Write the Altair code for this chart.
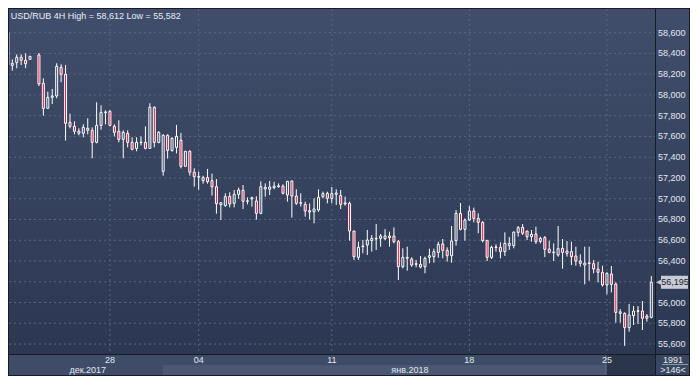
import altair as alt
import pandas as pd

# ---------------- data ----------------
symbol = "USD/RUB"
timeframe = "4H"
candle_index = [-1, 0, 1, 2, 3, 4] + list(range(6, 145))
opens = [58600, 58285, 58311, 58363, 58334, 58343,
         58385, 58112, 57871, 57977, 57990, 58266, 58199, 57736, 57698, 57631,
         57631, 57678, 57659, 57543, 57707, 57830, 57842, 57698, 57650, 57572,
         57630, 57543, 57485, 57540, 57543, 57485, 57881, 57543, 57264, 57611,
         57466, 57495, 57563, 57312, 57457, 57255, 57213, 57174, 57203, 57174,
         57116, 56943, 56933, 57023, 56956, 57042, 57081, 56975, 56998, 56978,
         56859, 57094, 57091, 57107, 57116, 57122, 57036, 57171, 57026, 56956,
         56946, 56872, 56875, 56891, 57020, 57052, 57004, 57042, 57030, 56950,
         56956, 56689, 56435, 56538, 56554, 56596, 56612, 56618, 56615, 56625,
         56641, 56586, 56345, 56426, 56419, 56368, 56368, 56345, 56435, 56442,
         56483, 56564, 56503, 56451, 56596, 56859, 56705, 56795, 56882, 56811,
         56772, 56599, 56435, 56530, 56532, 56490, 56548, 56548, 56676, 56724,
         56689, 56634, 56660, 56589, 56625, 56515, 56480, 56458, 56522, 56474,
         56490, 56448, 56400, 56361, 56376, 56374, 56323, 56291, 56169, 56275,
         56178, 55896, 55896, 55758, 55873, 55915, 55918, 55870, 55857]
highs = [58612, 58343, 58391, 58391, 58401, 58374,
         58404, 58160, 58032, 58057, 58305, 58295, 58289, 57820, 57746, 57678,
         57717, 57775, 57688, 57929, 57900, 57852, 57852, 57717, 57756, 57659,
         57659, 57592, 57592, 57601, 57698, 57920, 57890, 57650, 57621, 57621,
         57592, 57711, 57633, 57460, 57466, 57293, 57261, 57222, 57287, 57242,
         57190, 56965, 57052, 57062, 57084, 57107, 57132, 57013, 57020, 57023,
         57168, 57148, 57171, 57164, 57148, 57139, 57171, 57174, 57091, 57052,
         56972, 56956, 57004, 57091, 57068, 57068, 57113, 57091, 57084, 57020,
         56972, 56690, 56586, 56602, 56699, 56650, 56756, 56660, 56708, 56683,
         56724, 56602, 56522, 56538, 56435, 56410, 56448, 56442, 56519, 56519,
         56586, 56612, 56532, 56737, 56891, 56959, 56811, 56930, 56914, 56859,
         56785, 56599, 56548, 56561, 56580, 56676, 56631, 56683, 56737, 56756,
         56689, 56699, 56731, 56634, 56641, 56596, 56570, 56737, 56612, 56593,
         56586, 56538, 56464, 56538, 56538, 56409, 56393, 56355, 56291, 56352,
         56194, 55937, 55905, 55986, 55966, 55966, 56014, 55889, 56255]
lows = [58280, 58234, 58257, 58289, 58257, 58341,
        58086, 57800, 57870, 57913, 57968, 58122, 57560, 57678, 57621, 57611,
        57592, 57621, 57389, 57534, 57665, 57717, 57698, 57601, 57543, 57389,
        57495, 57466, 57457, 57514, 57476, 57480, 57495, 57534, 57222, 57386,
        57453, 57437, 57293, 57310, 57222, 57116, 57087, 57145, 57145, 57030,
        56856, 56795, 56924, 56917, 56917, 57000, 56901, 56946, 56924, 56798,
        56850, 57020, 57036, 57091, 57107, 57042, 56972, 56818, 56940, 56924,
        56827, 56801, 56763, 56875, 57004, 56956, 56956, 56940, 56901, 56933,
        56596, 56410, 56410, 56474, 56458, 56490, 56506, 56538, 56602, 56538,
        56570, 56217, 56329, 56307, 56345, 56339, 56329, 56281, 56378, 56384,
        56432, 56426, 56394, 56384, 56548, 56695, 56596, 56785, 56772, 56667,
        56580, 56400, 56419, 56490, 56426, 56448, 56506, 56522, 56635, 56650,
        56602, 56586, 56564, 56570, 56438, 56474, 56400, 56442, 56326, 56442,
        56361, 56355, 56345, 56175, 56210, 56281, 56194, 56153, 56079, 56098,
        55806, 55806, 55582, 55719, 55783, 55793, 55735, 55815, 55848]
closes = [58290, 58305, 58363, 58334, 58301, 58372,
          58106, 57871, 57977, 57990, 58276, 58199, 57727, 57698, 57650, 57650,
          57688, 57659, 57543, 57707, 57832, 57836, 57707, 57640, 57572, 57640,
          57543, 57476, 57543, 57546, 57485, 57881, 57543, 57640, 57611, 57466,
          57582, 57601, 57312, 57457, 57255, 57213, 57207, 57203, 57164, 57116,
          56952, 56962, 57020, 56949, 57042, 57084, 56975, 56980, 57010, 56859,
          57116, 57110, 57113, 57122, 57124, 57052, 57168, 57026, 56956, 56962,
          56882, 56885, 56901, 57013, 57049, 57004, 57049, 57055, 56946, 56960,
          56689, 56442, 56532, 56545, 56602, 56618, 56618, 56641, 56641, 56641,
          56586, 56345, 56435, 56435, 56361, 56374, 56342, 56426, 56451, 56490,
          56560, 56503, 56451, 56593, 56859, 56705, 56795, 56882, 56811, 56772,
          56596, 56435, 56532, 56536, 56490, 56570, 56570, 56679, 56721, 56667,
          56634, 56657, 56586, 56618, 56512, 56483, 56487, 56519, 56483, 56496,
          56442, 56400, 56378, 56380, 56382, 56323, 56291, 56169, 56281, 56175,
          55905, 55910, 55758, 55880, 55918, 55921, 55848, 55848, 56195]

price_ticks = [55600, 55800, 56000, 56200, 56400, 56600, 56800, 57000,
               57200, 57400, 57600, 57800, 58000, 58200, 58400, 58600]
day_ticks = [22, 42, 72, 103, 134]
day_labels = ["28", "04", "11", "18", "25"]
month_labels = ["дек.2017", "янв.2018"]
month_label_at = [17.0, 89.6]
jan_span = [33.9, 133.8]
total_bars = 1991
visible_bars = 146

# ---------------- layout / style ----------------
W, H = 646, 345
FONT = "Liberation Sans"
RED = "#e8143c"
GRID = "#58657f"
TXT = "#e3e8f1"

xs = alt.Scale(domain=[-0.744, 144.834], nice=False, zero=False, padding=0)
ys = alt.Scale(domain=[55504, 58828], nice=False, zero=False, padding=0)

df = pd.DataFrame({"i": candle_index, "o": opens, "h": highs, "l": lows, "c": closes})
one = pd.DataFrame({"k": [0]})
last_close = closes[-1]

grad = alt.Gradient(gradient="linear",
                    stops=[alt.GradientStop(color="#414e6b", offset=0),
                           alt.GradientStop(color="#2c3852", offset=1)],
                    x1=0, x2=0, y1=0, y2=1)

def box(x0, x1, y0, y1, fill):
    return alt.Chart(one).mark_rect(fill=fill).encode(
        x=alt.value(x0), x2=alt.value(x1), y=alt.value(y0), y2=alt.value(y1))

bg = box(0, W, 0, H, grad)
right_bg = box(W + 1, W + 34, 0, H, grad)
strip = box(0, W, H + 1, H + 21, "#3e4c68")
corner = box(W + 1, W + 34, H + 1, H + 21, "#39465f")

band = alt.Chart(one).mark_rect(fill="#4a5873").encode(
    x=alt.X(datum=jan_span[0], type="quantitative", scale=xs, axis=None),
    x2=alt.X2(datum=jan_span[1]),
    y=alt.value(H + 11), y2=alt.value(H + 21))
dark = alt.Chart(one).mark_rect(fill="#2b364d").encode(
    x=alt.X(datum=jan_span[1], type="quantitative", scale=xs, axis=None),
    x2=alt.value(W), y=alt.value(H + 1), y2=alt.value(H + 21))
dark_edge = alt.Chart(one).mark_rule(color="#66728a").encode(
    x=alt.X(datum=jan_span[1], type="quantitative", scale=xs, axis=None),
    y=alt.value(H + 1), y2=alt.value(H + 21))

grid_h = alt.Chart(pd.DataFrame({"p": price_ticks})).mark_rule(
    color=GRID, strokeDash=[2, 3], strokeWidth=1).encode(
    y=alt.Y("p:Q", scale=ys, axis=None), x=alt.value(0), x2=alt.value(W))
grid_v = alt.Chart(pd.DataFrame({"i": day_ticks})).mark_rule(
    color=GRID, strokeDash=[2, 3], strokeWidth=1).encode(
    x=alt.X("i:Q", scale=xs, axis=None), y=alt.value(0), y2=alt.value(H))

base = alt.Chart(df).transform_calculate(
    top="max(datum.o, datum.c)", bot="min(datum.o, datum.c)")
X = alt.X("i:Q", scale=xs, axis=None)
wick_up = base.mark_rule(color="white", strokeWidth=1, clip=True).encode(
    x=X, y=alt.Y("h:Q", scale=ys, axis=None), y2="top:Q")
wick_dn = base.mark_rule(color="white", strokeWidth=1, clip=True).encode(
    x=X, y=alt.Y("bot:Q", scale=ys, axis=None), y2="l:Q")
body_dn = base.transform_filter("datum.c < datum.o").mark_bar(
    size=2, fill=RED, stroke="white", strokeWidth=1, clip=True).encode(
    x=X, y=alt.Y("o:Q", scale=ys, axis=None), y2="c:Q")
body_up = base.transform_filter("datum.c >= datum.o").mark_bar(
    size=2, fill="#000000", fillOpacity=0, stroke="white", strokeWidth=1, clip=True).encode(
    x=X, y=alt.Y("o:Q", scale=ys, axis=None), y2="c:Q")

# price labels on the right (the one hidden under the last-price marker is left out)
ylabels = alt.Chart(pd.DataFrame({"p": price_ticks,
                                  "t": [f"{v:,}" for v in price_ticks]})).transform_filter(
    f"abs(datum.p - {last_close}) > 110").mark_text(
    align="left", baseline="middle", font=FONT, fontSize=9, color=TXT).encode(
    x=alt.value(W + 3), y=alt.Y("p:Q", scale=ys, axis=None), text="t:N")

last = pd.DataFrame({"p": [last_close], "t": [f"{last_close:,}"]})
mk_rect = alt.Chart(last).transform_calculate(
    p1="datum.p + 63", p2="datum.p - 63").mark_rect(fill="#c8ccd5").encode(
    x=alt.value(W + 6), x2=alt.value(W + 33),
    y=alt.Y("p1:Q", scale=ys, axis=None), y2="p2:Q")
mk_tri = alt.Chart(last).mark_point(
    shape="M 1 -1 L -1 0 L 1 1 Z", filled=True, size=36, color="#c8ccd5", opacity=1).encode(
    x=alt.value(W + 4), y=alt.Y("p:Q", scale=ys, axis=None))
mk_txt = alt.Chart(last).mark_text(
    align="center", baseline="middle", font=FONT, fontSize=9, color="#1b2334").encode(
    x=alt.value(W + 20), y=alt.Y("p:Q", scale=ys, axis=None), text="t:N")

days = alt.Chart(pd.DataFrame({"i": day_ticks, "t": day_labels})).mark_text(
    align="center", baseline="middle", font=FONT, fontSize=9, color=TXT).encode(
    x=alt.X("i:Q", scale=xs, axis=None), y=alt.value(H + 6), text="t:N")
months = alt.Chart(pd.DataFrame({"i": month_label_at, "t": month_labels})).mark_text(
    align="center", baseline="middle", font=FONT, fontSize=9, color=TXT).encode(
    x=alt.X("i:Q", scale=xs, axis=None), y=alt.value(H + 16), text="t:N")

c_top = alt.Chart(pd.DataFrame({"t": [str(total_bars)]})).mark_text(
    align="center", baseline="middle", font=FONT, fontSize=9, color=TXT).encode(
    x=alt.value(W + 18), y=alt.value(H + 5.5), text="t:N")
c_line = alt.Chart(one).mark_rule(color="#8f99ad").encode(
    x=alt.value(W + 7), x2=alt.value(W + 33), y=alt.value(H + 10.5))
c_bot = alt.Chart(pd.DataFrame({"t": [f">{visible_bars}<"]})).mark_text(
    align="center", baseline="middle", font=FONT, fontSize=9, color=TXT).encode(
    x=alt.value(W + 18), y=alt.value(H + 16), text="t:N")

header = alt.Chart(pd.DataFrame({"t": [
    f"{symbol} {timeframe} High = {max(highs):,} Low = {min(lows):,}"]})).mark_text(
    align="left", baseline="middle", font=FONT, fontSize=9, color="#e8edf5").encode(
    x=alt.value(1.7), y=alt.value(6.5), text="t:N")

chart = alt.layer(
    bg, right_bg, strip, band, dark, dark_edge, corner,
    grid_h, grid_v, wick_up, wick_dn, body_dn, body_up,
    ylabels, mk_rect, mk_tri, mk_txt, days, months, c_top, c_line, c_bot, header
).properties(
    width=W, height=H,
    autosize=alt.AutoSizeParams(type="none"),
    padding={"left": 1, "top": 1, "right": 35, "bottom": 22},
    background="#151b27",
).configure_view(strokeWidth=0)

chart.save("out.html", embed_options={"renderer": "svg", "actions": False})
